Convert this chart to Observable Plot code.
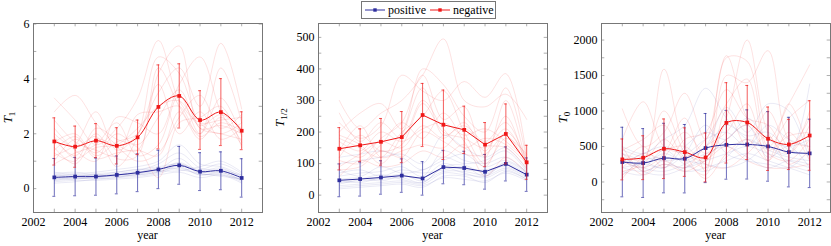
<!DOCTYPE html>
<html><head><meta charset="utf-8">
<script src="https://cdn.jsdelivr.net/npm/d3@7"></script>
<script src="https://cdn.jsdelivr.net/npm/@observablehq/plot@0.6"></script>
<style>
body{margin:0;background:#fff;}
#wrap{position:relative;width:831px;height:246px;overflow:hidden;font-family:'Liberation Serif','DejaVu Serif',serif;}
#wrap svg{font-family:'Liberation Serif','DejaVu Serif',serif !important;}
#wrap svg text{font-family:'Liberation Serif','DejaVu Serif',serif !important;}
#wrap svg.panel{position:absolute;top:0;}
</style>
</head><body><div id="wrap"></div>
<script>
const years = [2003,2004,2005,2006,2007,2008,2009,2010,2011,2012];
const xLabels = [2002,2004,2006,2008,2010,2012];
const xTickMarks = [2003,2004,2005,2006,2007,2008,2009,2010,2011,2012];
const seriesNames = ["positive","negative"];
const colPos = "#2e2e9e", colNeg = "#f01818";
const FONT = "'Liberation Serif','DejaVu Serif',serif";

// ---- T1 ----
const t1NegMean = [1.72,1.53,1.75,1.56,1.87,2.98,3.38,2.50,2.79,2.11];
const t1NegErr  = [0.86,0.75,0.62,0.66,0.63,1.53,1.17,1.07,1.22,0.69];
const t1PosMean = [0.41,0.44,0.44,0.50,0.58,0.70,0.85,0.62,0.65,0.39];
const t1PosErr  = [0.69,0.70,0.68,0.69,0.69,0.70,0.69,0.69,0.69,0.70];
const t1NegLines = [
 [3.3,2.5,1.6,2.2,3.3,5.4,3.2,2.4,2.5,2.6],
 [2.8,3.4,2.4,1.6,1.4,4.2,5.2,2.2,2.3,2.0],
 [1.2,1.6,2.8,1.4,2.0,3.5,4.4,3.0,5.3,2.9],
 [2.2,1.4,1.0,2.6,2.4,2.0,3.8,4.8,2.8,1.6],
 [1.8,1.2,2.0,1.1,1.2,4.4,3.0,2.0,4.4,2.4],
 [1.0,1.8,1.3,2.0,1.6,2.6,3.6,2.2,2.0,1.8],
 [1.5,0.9,1.8,1.5,1.0,1.3,2.6,3.4,2.2,2.7],
 [2.5,1.7,1.4,1.2,2.7,2.8,3.0,1.9,2.4,2.1],
 [1.3,1.0,2.2,1.8,1.5,0.4,2.4,2.6,3.0,1.5],
 [1.7,2.0,1.2,1.7,2.0,3.8,2.0,2.8,1.8,2.2],
 [0.9,1.3,1.6,2.4,1.2,1.6,3.4,2.0,3.3,1.9],
 [2.0,1.5,1.9,0.8,1.9,4.8,4.2,2.4,2.0,2.4],
 [1.4,1.9,1.1,1.3,1.4,1.2,2.8,1.8,2.6,1.7],
 [1.9,1.1,1.5,1.6,2.2,3.0,3.2,2.3,2.7,2.2]
];
const t1PosLines = [
 [0.5,0.55,0.6,0.7,0.8,1.0,1.6,0.9,0.8,0.5],
 [0.3,0.35,0.4,0.45,0.5,0.6,0.8,0.5,0.6,0.3],
 [0.4,0.4,0.35,0.4,0.55,0.7,1.1,0.6,0.7,0.45],
 [0.25,0.3,0.3,0.35,0.4,0.5,0.6,0.4,0.5,0.2],
 [0.6,0.5,0.55,0.6,0.7,0.8,0.9,0.7,0.9,0.55],
 [0.35,0.45,0.5,0.5,0.6,0.75,0.7,0.55,0.45,0.35],
 [0.45,0.5,0.45,0.55,0.65,0.9,1.3,0.75,0.65,0.5],
 [0.2,0.25,0.35,0.4,0.45,0.55,0.75,0.5,0.55,0.25],
 [0.5,0.45,0.5,0.45,0.5,0.6,0.85,0.65,0.75,0.4],
 [0.3,0.4,0.4,0.5,0.55,0.65,0.95,0.6,0.6,0.3],
 [0.55,0.6,0.5,0.6,0.7,0.65,0.65,0.8,1.0,0.6],
 [0.4,0.35,0.45,0.5,0.6,0.7,0.9,0.55,0.5,0.35]
];
const t1YLabels = [0,2,4,6];
const t1YTicks = [0,1,2,3,4,5,6];

// ---- T1/2 ----
const thNegMean = [147,158,169,184,254,223,207,160,194,104];
const thNegErr  = [67,52,74,81,100,110,75,70,95,54];
const thPosMean = [47,51,56,62,53,89,86,74,99,65];
const thPosErr  = [52,54,53,53,53,53,53,55,54,53];
const thNegLines = [
 [300,210,260,300,380,495,300,280,320,240],
 [230,180,220,380,330,300,360,310,385,120],
 [200,260,290,210,400,350,250,200,340,110],
 [150,120,180,230,380,240,280,120,300,90],
 [120,190,140,160,290,200,180,150,210,100],
 [180,150,120,200,250,330,200,100,180,130],
 [90,130,170,150,220,180,230,140,250,80],
 [260,170,230,180,300,210,150,180,160,100],
 [110,100,160,230,180,260,170,90,200,120],
 [140,220,120,140,160,150,210,160,150,85],
 [80,90,140,120,200,170,130,130,190,95],
 [170,140,200,170,210,230,190,210,170,110],
 [60,110,90,100,140,120,160,60,120,70],
 [190,160,100,190,340,190,220,170,230,105]
];
const thPosLines = [
 [100,110,120,130,100,190,150,120,150,80],
 [60,70,75,90,60,140,110,100,120,70],
 [40,45,50,55,40,90,95,70,100,65],
 [20,25,30,35,25,60,60,40,75,50],
 [80,60,90,70,80,110,130,90,110,75],
 [30,35,40,45,35,70,65,60,85,55],
 [50,55,45,60,55,100,80,80,90,60],
 [120,130,140,120,80,120,100,110,140,75],
 [25,30,35,40,30,55,50,45,70,45],
 [70,80,60,80,70,80,90,60,105,70],
 [45,40,55,65,45,75,75,65,95,60],
 [35,50,65,50,40,85,70,55,80,50]
];
const thYLabels = [0,100,200,300,400,500];
const thYTicks = [0,50,100,150,200,250,300,350,400,450,500];

// ---- T0 ----
const t0NegMean = [318,342,468,421,346,833,838,609,529,655];
const t0NegErr  = [288,309,420,342,344,566,522,447,354,490];
const t0PosMean = [281,267,337,328,478,524,529,501,421,403];
const t0PosErr  = [490,485,490,482,487,485,487,490,490,482];
const t0NegLines = [
 [1030,500,700,1250,600,1780,900,600,1100,1650],
 [600,1130,500,400,300,900,2000,700,400,800],
 [400,300,1590,500,200,1500,1400,1850,600,500],
 [300,200,400,900,150,1750,1700,500,900,1150],
 [200,400,300,200,500,700,1100,300,1100,400],
 [150,250,600,300,100,1000,500,1000,500,900],
 [500,150,350,700,400,600,800,400,300,600],
 [100,300,1000,400,50,400,600,300,700,300],
 [250,500,200,600,700,1300,900,800,400,1000],
 [350,100,250,150,300,500,300,200,200,250],
 [50,350,450,500,250,200,400,650,250,450],
 [450,600,800,350,600,1100,1450,450,650,700]
];
const t0PosLines = [
 [500,400,600,800,1320,900,600,500,400,1380],
 [300,250,400,300,500,1050,700,1100,1000,300],
 [200,150,250,200,300,400,500,400,300,200],
 [400,300,200,500,700,600,900,600,500,600],
 [150,100,300,150,200,300,400,300,200,100],
 [250,400,500,400,600,700,500,800,600,500],
 [350,200,150,250,400,500,350,200,300,250],
 [100,300,350,300,250,200,300,500,250,150],
 [450,350,300,350,500,800,650,700,450,400],
 [300,200,450,250,150,350,600,450,350,300],
 [200,250,200,400,800,400,300,250,200,450],
 [400,150,100,200,350,600,800,350,500,200]
];
const t0YLabels = [0,500,1000,1500,2000];
const t0YTicks = [-250,0,250,500,750,1000,1250,1500,1750,2000];

const H = 246, MT = 23, MB = 34;
const xDomain = [2002, 2013];

function longForm(lines) {
  return lines.flatMap((arr, k) => arr.map((v, i) => ({year: years[i], v, id: k})));
}
function stats(mean, err) {
  return years.map((y, i) => ({year: y, mean: mean[i], lo: mean[i] - err[i], hi: mean[i] + err[i]}));
}

function panel(cfg) {
  const plotH = H - MT - MB;
  const plotW = cfg.width - cfg.marginLeft - cfg.marginRight;
  const tlx = (xDomain[1] - xDomain[0]) * 3.3 / plotW;
  const tly = (cfg.yDomain[1] - cfg.yDomain[0]) * 3.3 / plotH;
  const ps = stats(cfg.posMean, cfg.posErr);
  const ns = stats(cfg.negMean, cfg.negErr);
  const capW = 0.07;
  const tickStyle = {stroke: "#999", strokeWidth: 0.8};
  const meanMarks = (s, col) => [
    Plot.ruleX(s, {x: "year", y1: "lo", y2: "hi", stroke: col, strokeOpacity: 0.7, strokeWidth: 1}),
    Plot.ruleY(s, {y: "hi", x1: d => d.year - capW, x2: d => d.year + capW, stroke: col, strokeOpacity: 0.7}),
    Plot.ruleY(s, {y: "lo", x1: d => d.year - capW, x2: d => d.year + capW, stroke: col, strokeOpacity: 0.7}),
    Plot.line(s, {x: "year", y: "mean", stroke: col, strokeWidth: 1, curve: cfg.meanCurve}),
    Plot.dot(s, {x: "year", y: "mean", symbol: "square", r: 2.1, fill: col, stroke: "none"})
  ];
  const svg = Plot.plot({
    width: cfg.width, height: H,
    marginLeft: cfg.marginLeft, marginRight: cfg.marginRight, marginTop: MT, marginBottom: MB,
    style: {fontFamily: FONT, fontSize: "12px", color: "#000", background: "transparent"},
    x: {domain: xDomain},
    y: {domain: cfg.yDomain},
    marks: [
      Plot.line(longForm(cfg.posLines), {x: "year", y: "v", z: "id", stroke: colPos, strokeOpacity: 0.13, strokeWidth: 0.8, curve: "catmull-rom", clip: true}),
      Plot.line(longForm(cfg.negLines), {x: "year", y: "v", z: "id", stroke: colNeg, strokeOpacity: 0.16, strokeWidth: 0.8, curve: "catmull-rom", clip: true}),
      ...meanMarks(ps, colPos),
      ...meanMarks(ns, colNeg),
      Plot.ruleY(cfg.yTicks, {y: d => d, x1: xDomain[0], x2: xDomain[0] + tlx, ...tickStyle}),
      Plot.ruleY(cfg.yTicks, {y: d => d, x1: xDomain[1] - tlx, x2: xDomain[1], ...tickStyle}),
      Plot.ruleX(xTickMarks, {x: d => d, y1: cfg.yDomain[0], y2: cfg.yDomain[0] + tly, ...tickStyle}),
      Plot.ruleX(xTickMarks, {x: d => d, y1: cfg.yDomain[1] - tly, y2: cfg.yDomain[1], ...tickStyle}),
      Plot.frame({stroke: "#777", strokeWidth: 1}),
      Plot.axisX({ticks: xLabels, tickSize: 0, tickPadding: 5, tickFormat: d => String(d), label: null, fontFamily: FONT}),
      Plot.axisY({ticks: cfg.yLabels, tickSize: 0, tickPadding: 4, tickFormat: d => String(d), label: null, fontFamily: FONT})
    ]
  });
  svg.classList.add("panel");
  svg.style.left = cfg.left + "px";
  const s = d3.select(svg);
  const cx = cfg.marginLeft + plotW / 2;
  s.append("text").attr("x", cx).attr("y", 239).attr("text-anchor", "middle")
    .attr("font-size", 12).attr("font-family", FONT).attr("fill", "#000").text("year");
  const yl = s.append("text").attr("transform", `translate(${cfg.labelX},${MT + plotH / 2}) rotate(-90)`)
    .attr("text-anchor", "middle").attr("font-size", 13).attr("font-family", FONT).attr("fill", "#000");
  yl.append("tspan").attr("font-style", "italic").text("T");
  yl.append("tspan").attr("font-size", 9).attr("dy", 3).text(cfg.sub);
  return svg;
}

const wrap = document.getElementById("wrap");
wrap.appendChild(panel({left: 0, width: 270, marginLeft: 33, marginRight: 8, labelX: 12,
  yDomain: [-0.87, 6.02], yTicks: t1YTicks, yLabels: t1YLabels, sub: "1",
  negLines: t1NegLines, posLines: t1PosLines, negMean: t1NegMean, negErr: t1NegErr,
  posMean: t1PosMean, posErr: t1PosErr, meanCurve: "catmull-rom"}));
wrap.appendChild(panel({left: 270, width: 280, marginLeft: 48, marginRight: 3, labelX: 14,
  yDomain: [-55, 544], yTicks: thYTicks, yLabels: thYLabels, sub: "1/2",
  negLines: thNegLines, posLines: thPosLines, negMean: thNegMean, negErr: thNegErr,
  posMean: thPosMean, posErr: thPosErr, meanCurve: "linear"}));
wrap.appendChild(panel({left: 550, width: 281, marginLeft: 51, marginRight: 1, labelX: 17,
  yDomain: [-430, 2233], yTicks: t0YTicks, yLabels: t0YLabels, sub: "0",
  negLines: t0NegLines, posLines: t0PosLines, negMean: t0NegMean, negErr: t0NegErr,
  posMean: t0PosMean, posErr: t0PosErr, meanCurve: "catmull-rom"}));

// legend
const lg = d3.select(wrap).append("svg").attr("width", 140).attr("height", 21)
  .style("position", "absolute").style("left", "359px").style("top", "0px");
lg.append("rect").attr("x", 2.5).attr("y", 1.5).attr("width", 134).attr("height", 17)
  .attr("fill", "#fff").attr("stroke", "#777");
const items = [{name: seriesNames[0], col: colPos, x: 6}, {name: seriesNames[1], col: colNeg, x: 71}];
items.forEach(it => {
  lg.append("line").attr("x1", it.x).attr("x2", it.x + 20).attr("y1", 10).attr("y2", 10).attr("stroke", it.col);
  lg.append("rect").attr("x", it.x + 8.3).attr("y", 8.3).attr("width", 3.4).attr("height", 3.4).attr("fill", it.col);
  lg.append("text").attr("x", it.x + 23).attr("y", 14).attr("font-size", 12)
    .attr("font-family", FONT).text(it.name);
});
</script></body></html>
